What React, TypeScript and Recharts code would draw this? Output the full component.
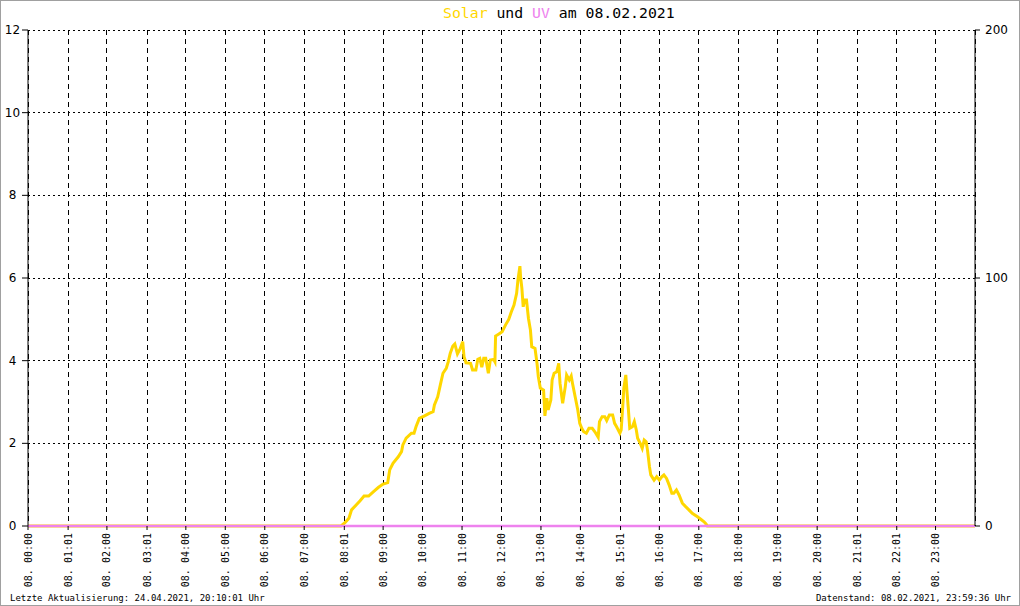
import React from 'react';
import { LineChart, Line, XAxis, YAxis, CartesianGrid } from 'recharts';

// X axis ticks (minutes since midnight) and their labels
const xTickMinutes = [0, 61, 120, 181, 240, 300, 360, 420, 481, 540, 600, 660, 720, 780, 840, 901, 960, 1020, 1080, 1140, 1200, 1261, 1321, 1380];
const xTickLabels = [
  '08. 00:00', '08. 01:01', '08. 02:00', '08. 03:01', '08. 04:00', '08. 05:00',
  '08. 06:00', '08. 07:00', '08. 08:01', '08. 09:00', '08. 10:00', '08. 11:00',
  '08. 12:00', '08. 13:00', '08. 14:00', '08. 15:01', '08. 16:00', '08. 17:00',
  '08. 18:00', '08. 19:00', '08. 20:00', '08. 21:01', '08. 22:01', '08. 23:00',
];
const leftTicks = [0, 2, 4, 6, 8, 10, 12];
const rightTicks = [0, 100, 200];

// Solar radiation (W/m², right axis)
const solarMinutes = [
  0, 476, 482, 488, 492, 499, 505, 511, 518, 525, 533, 540, 547, 550, 555, 563, 568, 570, 575, 583,
  587, 590, 595, 603, 610, 616, 618, 623, 627, 631, 636, 639, 642, 646, 649, 653, 657, 661, 663, 666,
  673, 676, 681, 684, 687, 690, 693, 696, 700, 703, 708, 710, 711, 716, 721, 726, 731, 735, 739, 743,
  745, 748, 749, 751, 753, 755, 758, 761, 764, 766, 771, 774, 776, 779, 784, 786, 789, 791, 795, 797,
  800, 804, 807, 809, 813, 817, 819, 823, 826, 828, 832, 836, 839, 842, 845, 849, 853, 858, 862, 867,
  869, 873, 877, 880, 884, 889, 892, 895, 900, 902, 905, 906, 909, 911, 913, 915, 919, 922, 925, 927,
  931, 934, 937, 940, 942, 945, 947, 952, 956, 960, 964, 967, 971, 975, 979, 982, 986, 990, 995, 1000,
  1005, 1010, 1018, 1023, 1028, 1031, 1033, 1440,
];
const solarWatts = [
  0, 0, 1.3, 3.1, 6.5, 8.5, 10.2, 12.1, 12.1, 13.8, 15.6, 16.9, 17.5, 22.6, 25.3, 27.9, 30.0, 32.7, 35.4, 37.4,
  37.4, 40.0, 43.4, 44.4, 45.4, 46.1, 48.8, 52.1, 56.9, 61.6, 63.6, 66.2, 69.6, 72.6, 73.4, 69.4, 71.4, 74.3, 68.3, 65.8,
  65.6, 62.9, 62.9, 67.2, 67.6, 64.0, 67.6, 67.6, 61.6, 66.9, 67.2, 66.2, 76.6, 77.4, 78.3, 81.0, 83.3, 86.4, 89.1, 93.8,
  99.2, 104.8, 100.5, 95.8, 88.4, 91.1, 91.1, 83.7, 79.0, 72.3, 71.6, 65.6, 60.2, 55.6, 54.8, 44.4, 51.5, 46.8, 50.8, 58.9,
  61.6, 62.2, 65.6, 57.5, 49.5, 56.2, 60.9, 58.9, 60.5, 57.5, 52.1, 46.8, 41.4, 39.4, 38.0, 37.4, 39.4, 39.4, 38.0, 35.8,
  42.1, 44.1, 44.1, 42.5, 44.8, 44.8, 41.4, 40.0, 37.4, 38.7, 50.8, 55.6, 60.9, 53.5, 46.8, 39.4, 40.0, 42.1, 38.7, 35.4,
  33.3, 31.3, 34.7, 34.0, 30.6, 23.9, 20.6, 18.5, 19.9, 18.5, 19.9, 20.6, 19.2, 16.5, 13.2, 13.2, 14.5, 12.5, 9.2, 7.8,
  6.5, 5.1, 3.7, 2.7, 1.7, 0.8, 0, 0,
];

// UV index (left axis)
const uvMinutes = [0, 60, 120, 180, 240, 300, 360, 420, 480, 540, 600, 660, 720, 780, 840, 900, 960, 1020, 1080, 1140, 1200, 1260, 1320, 1380, 1440];
const uvIndex = [0, 0, 0, 0, 0, 0, 0, 0, 0, 0, 0, 0, 0, 0, 0, 0, 0, 0, 0, 0, 0, 0, 0, 0, 0];

const solarData = solarMinutes.map((m, i) => ({ m, solar: solarWatts[i] }));
const uvData = uvMinutes.map((m, i) => ({ m, uv: uvIndex[i] }));

const SOLAR = '#FFD700';
const UV = '#EE82EE';
const MONO = '"DejaVu Sans Mono", "Liberation Mono", monospace';
const SANS = '"DejaVu Sans", "Liberation Sans", sans-serif';

const XTick = (props: any) => {
  const { x, y, payload } = props;
  const idx = xTickMinutes.indexOf(payload.value);
  return (
    <g transform={`translate(${x},${y})`}>
      <text transform="rotate(-90)" x={0} y={0} textAnchor="end" dominantBaseline="central"
        fontFamily={MONO} fontSize={10} fill="#000">
        {idx >= 0 ? xTickLabels[idx] : ''}
      </text>
    </g>
  );
};

const LeftTick = (props: any) => {
  const { x, y, payload } = props;
  return (
    <text x={x - 9.5} y={y} textAnchor="middle" dominantBaseline="central" fontFamily={SANS} fontSize={12} fill="#000">
      {payload.value}
    </text>
  );
};

const RightTick = (props: any) => {
  const { x, y, payload } = props;
  return (
    <text x={x} y={y} textAnchor="start" dominantBaseline="central" fontFamily={SANS} fontSize={12} fill="#000">
      {payload.value}
    </text>
  );
};

export default function App() {
  return (
    <div style={{ position: 'absolute', left: 0, top: 0, width: 1020, height: 606, boxSizing: 'border-box', border: '1px solid #a0a0a0', background: '#fff' }}>
      <div style={{ position: 'absolute', left: -1, top: -1 }}>
        <LineChart width={1020} height={606} margin={{ top: 30, right: 0, bottom: 0, left: 0 }}>
          <CartesianGrid yAxisId="left" vertical={false} stroke="#000" strokeDasharray="2 3" shapeRendering="crispEdges" />
          <CartesianGrid yAxisId="left" horizontal={false} stroke="#000" strokeDasharray="5 4" shapeRendering="crispEdges" />
          <XAxis dataKey="m" type="number" domain={[0, 1440]} ticks={xTickMinutes} interval={0}
            height={80} tickSize={4} tickMargin={3} stroke="#000" axisLine={false} tick={<XTick />} />
          <YAxis yAxisId="left" domain={[0, 12]} ticks={leftTicks} width={28} tickSize={6} tickMargin={0}
            stroke="#000" tick={<LeftTick />} />
          <YAxis yAxisId="right" orientation="right" domain={[0, 200]} ticks={rightTicks} width={45}
            tickSize={5} tickMargin={5} stroke="#000" tick={<RightTick />} />
          <Line data={solarData} dataKey="solar" yAxisId="right" type="linear" stroke={SOLAR} strokeWidth={3}
            dot={false} activeDot={false} isAnimationActive={false} />
          <Line data={uvData} dataKey="uv" yAxisId="left" type="linear" stroke={UV} strokeWidth={2.5}
            dot={false} activeDot={false} isAnimationActive={false} />
        </LineChart>
      </div>
      <svg width={1020} height={606} style={{ position: 'absolute', left: -1, top: -1, pointerEvents: 'none' }}>
        <text x={443} y={18} fontFamily={MONO} fontSize={14.8} fill="#000" style={{ whiteSpace: 'pre' }}>
          <tspan fill={SOLAR}>Solar</tspan>
          <tspan fill="#000"> und </tspan>
          <tspan fill={UV}>UV</tspan>
          <tspan fill="#000"> am 08.02.2021</tspan>
        </text>
        <text x={10} y={601} fontFamily={MONO} fontSize={9} fill="#000">Letzte Aktualisierung: 24.04.2021, 20:10:01 Uhr</text>
        <text x={1011} y={601} fontFamily={MONO} fontSize={9} fill="#000" textAnchor="end">Datenstand: 08.02.2021, 23:59:36 Uhr</text>
      </svg>
    </div>
  );
}
